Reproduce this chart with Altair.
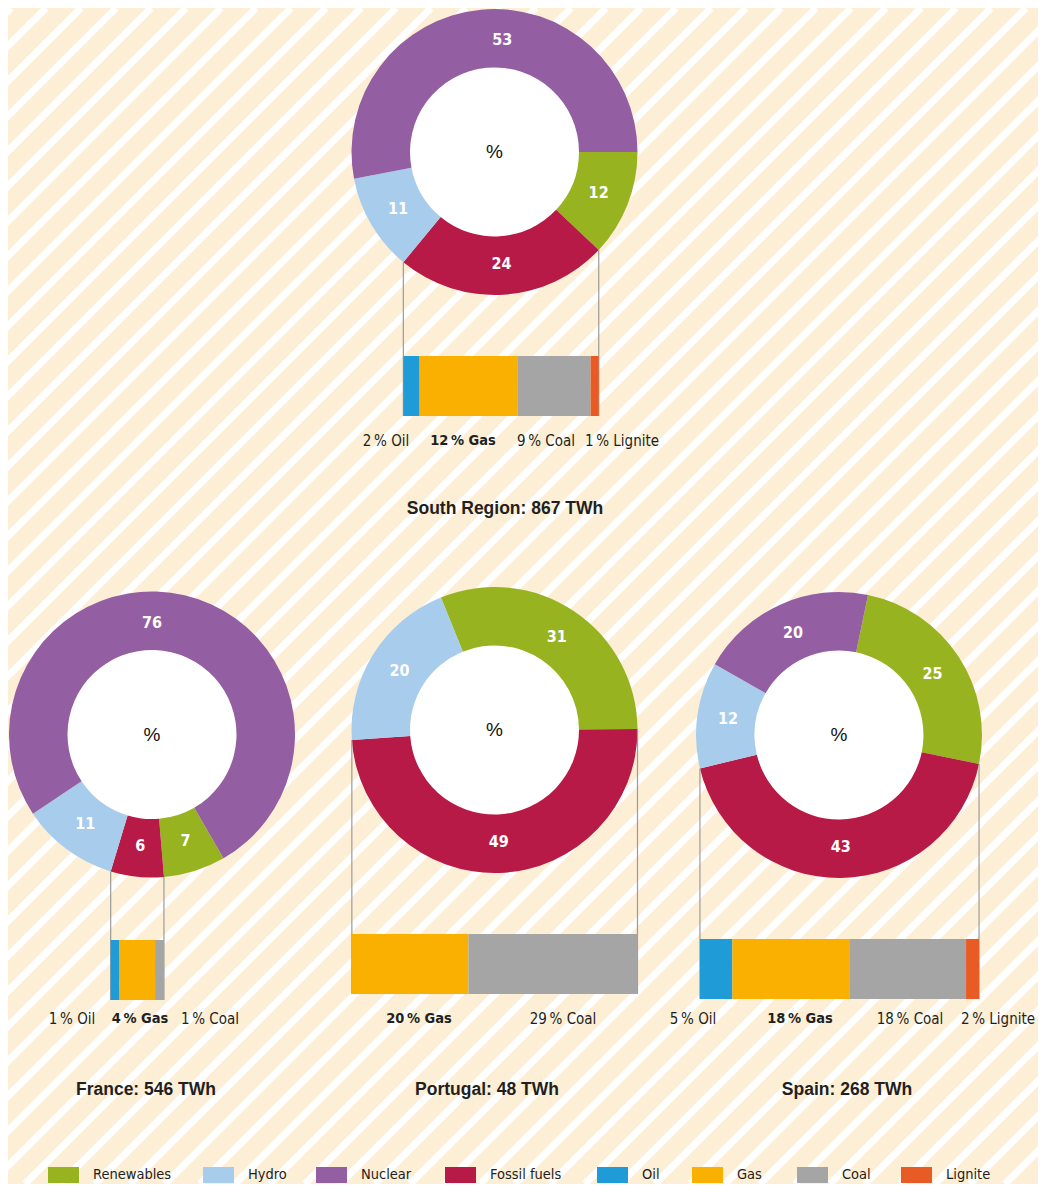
import math
import altair as alt
import pandas as pd

# ---------------- data ----------------
regions = ["South Region", "France", "Portugal", "Spain"]
totals_twh = [867, 546, 48, 268]

sources = ["Renewables", "Fossil fuels", "Hydro", "Nuclear"]  # clockwise order in every donut
renewables = [12, 7, 31, 25]
fossil = [24, 6, 49, 43]
hydro = [11, 11, 20, 12]
nuclear = [53, 76, 0, 20]

fuels = ["Oil", "Gas", "Coal", "Lignite"]
oil = [2, 1, 0, 5]
gas = [12, 4, 20, 18]
coal = [9, 1, 29, 18]
lignite = [1, 0, 0, 2]

legend_items = ["Renewables", "Hydro", "Nuclear", "Fossil fuels", "Oil", "Gas", "Coal", "Lignite"]
legend_colors = ["#97b320", "#a8ccec", "#945ea3", "#b71a47", "#1f9cd7", "#f9b000", "#a5a5a5", "#e95b25"]

# ---------------- layout (reference pixel space) ----------------
W, H = 1030, 1176
R_OUT, R_IN, R_LAB = 143, 84.5, 112
layout = {
    "South Region": dict(cx=494.5, cy=152, start=90, bar=(356, 416), label_y=441, title=(505, 509),
                         fuel_x=[386, 463, 546, 622]),
    "France": dict(cx=152, cy=734.5, start=150, bar=(940, 1000), label_y=1019, title=(146, 1090),
                   fuel_x=[72, 140, 210]),
    "Portugal": dict(cx=494.5, cy=730, start=338, bar=(934, 994), label_y=1019, title=(487, 1090),
                     fuel_x=[419, 563]),
    "Spain": dict(cx=839, cy=735, start=11.7, bar=(939, 999), label_y=1019, title=(847, 1090),
                  fuel_x=[693, 800, 910, 998]),
}
label_angle_override = {("South Region", "Nuclear"): 4, ("France", "Nuclear"): 0}
legend_x = [48, 203, 316, 445, 597, 692, 797, 901]
legend_y = 1175

NARROW = "DejaVu Sans Condensed, Liberation Sans Narrow, sans-serif"
WIDE = "Liberation Sans, Arial, sans-serif"
TEXT_COLOR = "#231f20"

# ---------------- tables ----------------
arc_rows, lab_rows, conn_rows, bar_rows, blab_rows, title_rows, center_rows = [], [], [], [], [], [], []
for i, reg in enumerate(regions):
    L = layout[reg]
    cx, cy = L["cx"], L["cy"]
    vals = dict(zip(sources, [renewables[i], fossil[i], hydro[i], nuclear[i]]))
    a = L["start"]
    fossil_span = None
    for s in sources:
        v = vals[s]
        if v <= 0:
            continue
        a1 = a + v * 3.6
        arc_rows.append(dict(region=reg, source=s, a0=a, a1=a1, cx=cx, cy=cy))
        mid = label_angle_override.get((reg, s), (a + a1) / 2)
        r = math.radians(mid)
        lab_rows.append(dict(x=cx + R_LAB * math.sin(r), y=cy - R_LAB * math.cos(r), text=str(v)))
        if s == "Fossil fuels":
            fossil_span = (a, a1)
        a = a1
    center_rows.append(dict(x=cx, y=cy, text="%"))
    # connectors from the fossil arc ends down to the bar
    ends = []
    for ang in fossil_span:
        r = math.radians(ang)
        px, py = cx + R_OUT * math.sin(r), cy - R_OUT * math.cos(r)
        ends.append(px)
        conn_rows.append(dict(x=px, y=py, y2=L["bar"][1]))
    xl, xr = min(ends), max(ends)
    fvals = dict(zip(fuels, [oil[i], gas[i], coal[i], lignite[i]]))
    tot = sum(fvals.values())
    cum = 0
    k = 0
    for f in fuels:
        v = fvals[f]
        if v <= 0:
            continue
        x0 = xl + (cum / tot) * (xr - xl)
        x1 = xl + ((cum + v) / tot) * (xr - xl)
        bar_rows.append(dict(fuel=f, x=x0, x2=x1, y=L["bar"][0], y2=L["bar"][1]))
        blab_rows.append(dict(fuel=f, x=L["fuel_x"][k], y=L["label_y"],
                              text=f"{v}\u2009% {f}", bold=(f == "Gas")))
        cum += v
        k += 1
    title_rows.append(dict(x=L["title"][0], y=L["title"][1], text=f"{reg}: {totals_twh[i]} TWh"))

arc_df = pd.DataFrame(arc_rows)
lab_df = pd.DataFrame(lab_rows)
conn_df = pd.DataFrame(conn_rows)
bar_df = pd.DataFrame(bar_rows)
blab_df = pd.DataFrame(blab_rows)
title_df = pd.DataFrame(title_rows)
center_df = pd.DataFrame(center_rows)
leg_df = pd.DataFrame(dict(item=legend_items, x=legend_x, x2=[v + 31 for v in legend_x],
                           tx=[v + 45 for v in legend_x], y=legend_y - 8, y2=legend_y + 8, ty=legend_y))

stripe_df = pd.DataFrame(dict(x=[k for k in range(-1200, 1100, 35)]))
stripe_df["y"] = 8 + H
stripe_df["x2"] = stripe_df["x"] + H
stripe_df["y2"] = 8

# ---------------- scales ----------------
xs = alt.Scale(domain=[8, 8 + W], nice=False, zero=False)
ys = alt.Scale(domain=[8 + H, 8], nice=False, zero=False)
cs = alt.Scale(domain=legend_items, range=legend_colors)


def X(f):
    return alt.X(f"{f}:Q", scale=xs, axis=None)


def Y(f):
    return alt.Y(f"{f}:Q", scale=ys, axis=None)


stripes = alt.Chart(stripe_df).mark_rule(color="white", strokeWidth=7, clip=True).encode(
    x=X("x"), y=Y("y"), x2="x2:Q", y2="y2:Q")

holes = alt.Chart(center_df).mark_arc(radius=R_IN + 1, theta=0, theta2=2 * math.pi, color="white").encode(
    x=X("x"), y=Y("y"))

arcs = alt.Chart(arc_df).mark_arc(radius=R_OUT, radius2=R_IN).encode(
    x=X("cx"), y=Y("cy"),
    theta=alt.Theta("a0:Q", scale=alt.Scale(domain=[0, 360], range=[0, 2 * math.pi]), stack=None),
    theta2="a1:Q",
    color=alt.Color("source:N", scale=cs, legend=None))

arc_labels = alt.Chart(lab_df).mark_text(font=NARROW, fontWeight="bold", fontSize=16, color="white",
                                         baseline="middle", align="center").encode(
    x=X("x"), y=Y("y"), text="text:N")

pct = alt.Chart(center_df).mark_text(font=WIDE, fontSize=19, color="#111111",
                                     baseline="middle", align="center").encode(
    x=X("x"), y=Y("y"), text="text:N")

conns = alt.Chart(conn_df).mark_rule(color="#9b9b9b", strokeWidth=1.2).encode(
    x=X("x"), y=Y("y"), y2="y2:Q")

bars = alt.Chart(bar_df).mark_rect().encode(
    x=X("x"), x2="x2:Q", y=Y("y"), y2="y2:Q",
    color=alt.Color("fuel:N", scale=cs, legend=None))

blab_reg = alt.Chart(blab_df).transform_filter("!datum.bold").mark_text(
    font=NARROW, fontSize=15, color=TEXT_COLOR, baseline="middle", align="center").encode(
    x=X("x"), y=Y("y"), text="text:N")
blab_bold = alt.Chart(blab_df).transform_filter("datum.bold").mark_text(
    font=NARROW, fontSize=14.5, fontWeight="bold", color=TEXT_COLOR, baseline="middle", align="center").encode(
    x=X("x"), y=Y("y"), text="text:N")

titles = alt.Chart(title_df).mark_text(font=WIDE, fontSize=17.5, fontWeight="bold", color=TEXT_COLOR,
                                       baseline="middle", align="center").encode(
    x=X("x"), y=Y("y"), text="text:N")

leg_rect = alt.Chart(leg_df).mark_rect().encode(
    x=X("x"), x2="x2:Q", y=Y("y"), y2="y2:Q",
    color=alt.Color("item:N", scale=cs, legend=None))
leg_text = alt.Chart(leg_df).mark_text(font=NARROW, fontSize=14.5, color=TEXT_COLOR,
                                       baseline="middle", align="left").encode(
    x=X("tx"), y=Y("ty"), text="item:N")

chart = alt.layer(
    stripes, holes, arcs, arc_labels, pct, conns, bars, blab_reg, blab_bold, titles, leg_rect, leg_text
).properties(
    width=W, height=H, background="#fdeed6", padding=0, autosize=alt.AutoSizeParams(type="none")
).configure_view(stroke=None)

chart.save("out.html", embed_options={"renderer": "svg", "actions": False})
